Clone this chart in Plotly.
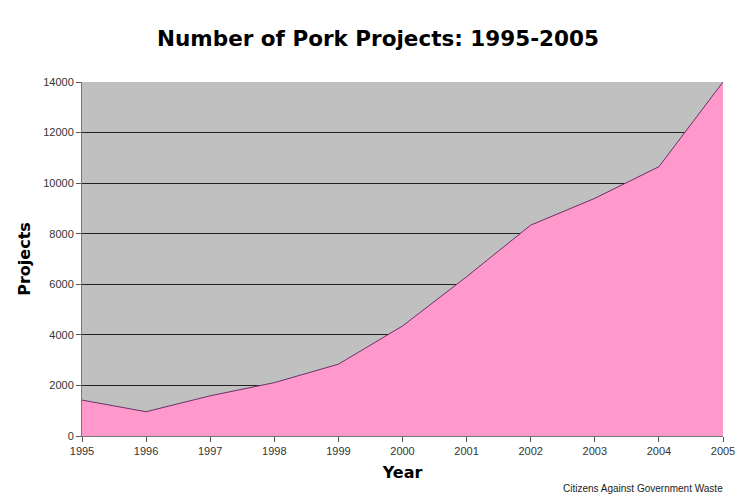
import plotly.graph_objects as go

years = [1995, 1996, 1997, 1998, 1999, 2000, 2001, 2002, 2003, 2004, 2005]
projects = [1420, 960, 1590, 2110, 2840, 4350, 6300, 8340, 9400, 10650, 14000]
y_ticks = [0, 2000, 4000, 6000, 8000, 10000, 12000, 14000]

fig = go.Figure()
fig.add_trace(go.Scatter(
    x=years, y=projects, mode="lines", fill="tozeroy",
    fillcolor="#FF99CC", line=dict(color="#663366", width=1),
    hoverinfo="x+y"))

# page body has an 8px default margin, so the figure is sized to fit
fig.update_layout(
    width=740, height=492,
    margin=dict(l=74, r=25, t=74, b=64),
    paper_bgcolor="white", plot_bgcolor="#C0C0C0",
    showlegend=False,
    title=dict(text="<b>Number of Pork Projects: 1995-2005</b>",
               x=0.5, xanchor="center", y=0.939, yanchor="middle",
               font=dict(family="Tahoma, DejaVu Sans, sans-serif", size=21.5, color="black")),
    font=dict(family="Arial, Liberation Sans, sans-serif", size=11, color="#333"),
    xaxis=dict(range=[1995, 2005], tickmode="array", tickvals=years, tickformat="d",
               ticks="outside", ticklen=5, tickcolor="#555",
               showline=True, linecolor="#777", linewidth=1, mirror=False,
               showgrid=False, zeroline=False,
               title=dict(text="<b>Year</b>", standoff=10,
                          font=dict(family="Tahoma, DejaVu Sans, sans-serif", size=16, color="black"))),
    yaxis=dict(range=[0, 14000], tickmode="array", tickvals=y_ticks, tickformat="d",
               ticks="outside", ticklen=5, tickcolor="#555",
               showline=True, linecolor="#777", linewidth=1,
               showgrid=True, gridcolor="#222", gridwidth=1, zeroline=False,
               title=dict(text="<b>Projects</b>", standoff=8,
                          font=dict(family="Tahoma, DejaVu Sans, sans-serif", size=16, color="black"))),
    annotations=[dict(text="Citizens Against Government Waste", xref="paper", yref="paper",
                      x=1.003, y=-0.147, xanchor="right", yanchor="middle", showarrow=False,
                      font=dict(family="Arial, Liberation Sans, sans-serif", size=10, color="#222"))],
)

fig.write_html("out.html")
